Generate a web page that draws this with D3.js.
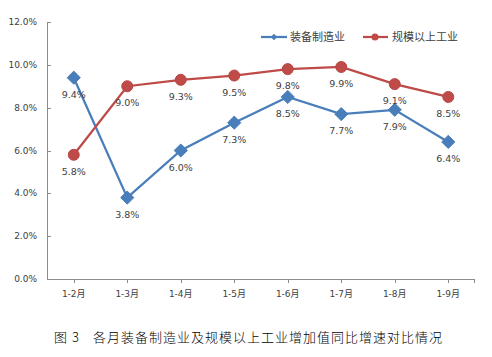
<!DOCTYPE html>
<html><head><meta charset="utf-8">
<script src="https://cdn.jsdelivr.net/npm/d3@7"></script>
<style>body{margin:0;background:#fff}svg{display:block}</style>
</head><body><svg id="c" width="492" height="357"></svg>
<script>
const categories = ["1-2月","1-3月","1-4月","1-5月","1-6月","1-7月","1-8月","1-9月"];
const equipment = [9.4, 3.8, 6.0, 7.3, 8.5, 7.7, 7.9, 6.4];
const industry = [5.8, 9.0, 9.3, 9.5, 9.8, 9.9, 9.1, 8.5];
const yTicks = [0, 2, 4, 6, 8, 10, 12];
const seriesNames = ["装备制造业", "规模以上工业"];
const caption = ["图 3", "各月装备制造业及规模以上工业增加值同比增速对比情况"];

const svg = d3.select("#c");
const font = "'DejaVu Sans', 'Noto Sans CJK SC', sans-serif";
const lfont = "'Noto Sans CJK SC', sans-serif";
const L = 47, R = 475, T = 22, B = 279;
const x = d3.scaleBand().domain(categories).range([L, R]);
const y = d3.scaleLinear().domain([0, 12]).range([B, T]);
const cx = d => x(d) + x.bandwidth() / 2;

// axes
svg.append("line").attr("x1", L + 0.5).attr("x2", L + 0.5).attr("y1", T).attr("y2", B)
  .attr("stroke", "#8c8c8c");
svg.append("line").attr("x1", L).attr("x2", R).attr("y1", B + 0.5).attr("y2", B + 0.5)
  .attr("stroke", "#8c8c8c");
yTicks.forEach(t => {
  svg.append("line").attr("x1", L).attr("x2", L + 4).attr("y1", Math.round(y(t)) + 0.5).attr("y2", Math.round(y(t)) + 0.5)
    .attr("stroke", "#8c8c8c");
  svg.append("text").attr("x", 37).attr("y", y(t)).attr("dy", "0.35em")
    .attr("text-anchor", "end").attr("font-family", font).attr("font-size", 9)
    .attr("fill", "#404040").text(t.toFixed(1) + "%");
});
categories.forEach(c => {
  svg.append("line").attr("x1", Math.round(cx(c)) + 0.5).attr("x2", Math.round(cx(c)) + 0.5)
    .attr("y1", B).attr("y2", B + 4).attr("stroke", "#8c8c8c");
  svg.append("text").attr("x", cx(c)).attr("y", 297).attr("text-anchor", "middle")
    .attr("font-family", font).attr("font-size", 9).attr("fill", "#404040").text(c);
});
svg.append("line").attr("x1", R - 0.5).attr("x2", R - 0.5).attr("y1", B).attr("y2", B + 4).attr("stroke", "#8c8c8c");

const blue = "#4a7ebb", red = "#be4b48";
const line = d3.line().x((d, i) => cx(categories[i])).y(d => y(d));

function drawSeries(data, color, marker) {
  svg.append("path").attr("d", line(data)).attr("fill", "none")
    .attr("stroke", color).attr("stroke-width", 2.25);
  data.forEach((v, i) => {
    if (marker === "diamond") {
      svg.append("path").attr("d", d3.symbol(d3.symbolDiamond2, 110)())
        .attr("transform", `translate(${cx(categories[i])},${y(v)})`).attr("fill", blue).attr("stroke", blue);
    } else {
      svg.append("circle").attr("cx", cx(categories[i])).attr("cy", y(v)).attr("r", 5.5)
        .attr("fill", red).attr("stroke", "#b84744");
    }
    svg.append("text").attr("x", cx(categories[i])).attr("y", y(v) + 20)
      .attr("text-anchor", "middle").attr("font-family", font).attr("font-size", 9.5)
      .attr("fill", "#404040").text(v.toFixed(1) + "%");
  });
}
drawSeries(equipment, blue, "diamond");
drawSeries(industry, red, "circle");

// legend
const ly = 37;
svg.append("line").attr("x1", 261).attr("x2", 287).attr("y1", ly).attr("y2", ly).attr("stroke", blue).attr("stroke-width", 2.25);
svg.append("path").attr("d", d3.symbol(d3.symbolDiamond2, 28)()).attr("transform", `translate(274,${ly})`).attr("fill", blue);
svg.append("text").attr("x", 290).attr("y", ly).attr("dy", "0.35em").attr("font-family", lfont)
  .attr("font-size", 11).attr("fill", "#404040").text(seriesNames[0]);
svg.append("line").attr("x1", 363).attr("x2", 388).attr("y1", ly).attr("y2", ly).attr("stroke", red).attr("stroke-width", 2.25);
svg.append("circle").attr("cx", 375).attr("cy", ly).attr("r", 3.5).attr("fill", red);
svg.append("text").attr("x", 392).attr("y", ly).attr("dy", "0.35em").attr("font-family", lfont)
  .attr("font-size", 11).attr("fill", "#404040").text(seriesNames[1]);

// caption
const cf = "'Noto Sans CJK SC', sans-serif";
svg.append("text").attr("x", 54).attr("y", 342).attr("font-family", cf).attr("font-size", 13)
  .attr("font-weight", 300).attr("fill", "#000").attr("textLength", 25).attr("lengthAdjust", "spacing").text(caption[0]);
svg.append("text").attr("x", 93).attr("y", 342).attr("font-family", cf).attr("font-size", 13)
  .attr("font-weight", 300).attr("fill", "#000").attr("textLength", 349).attr("lengthAdjust", "spacing").text(caption[1]);
</script></body></html>
